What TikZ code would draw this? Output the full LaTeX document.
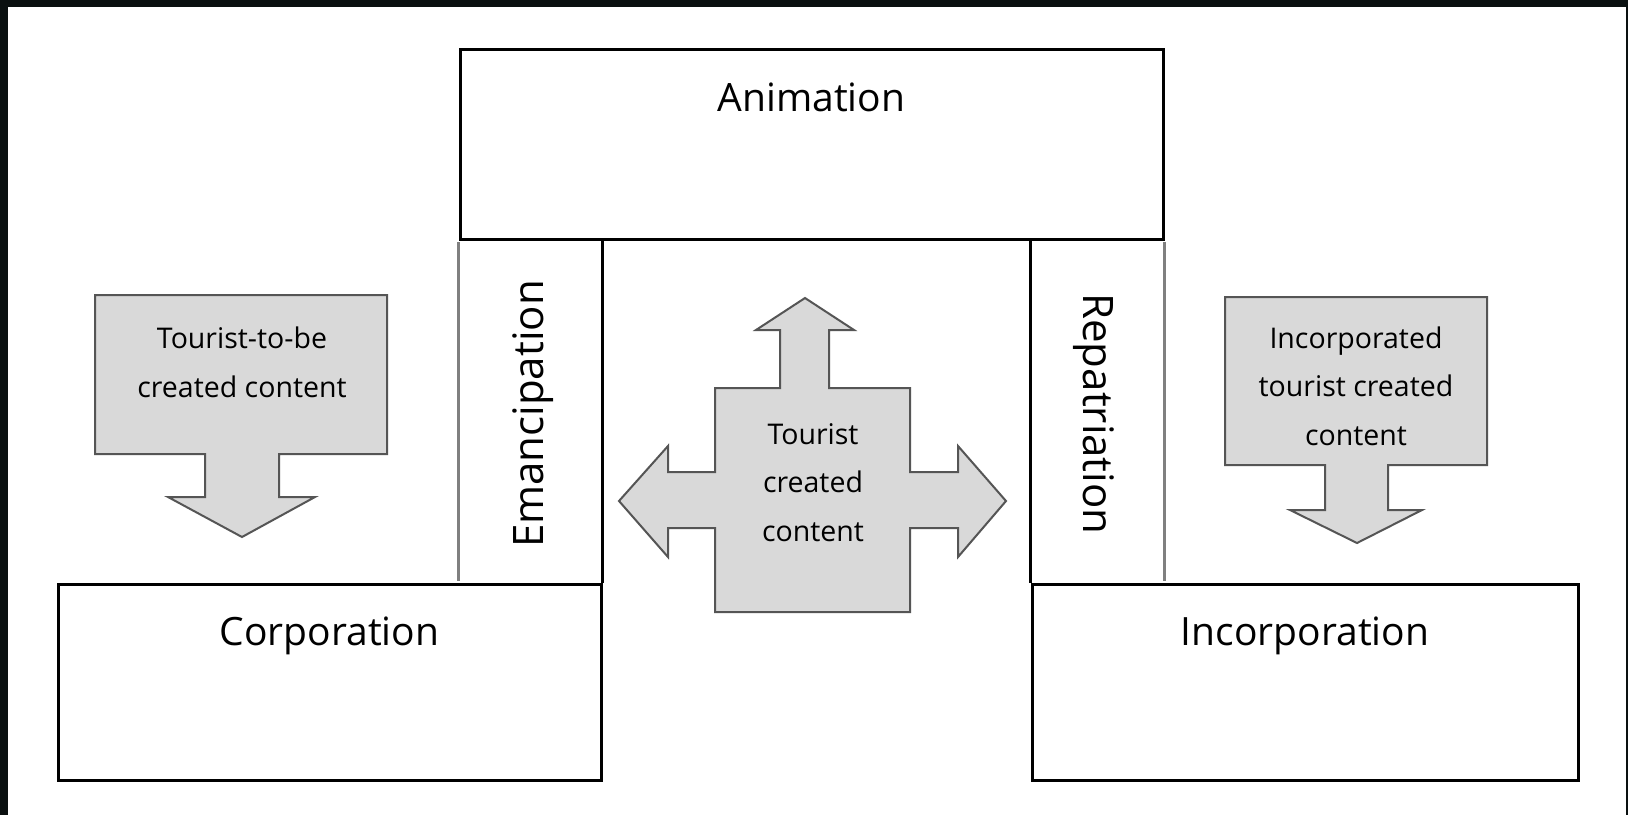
\documentclass[tikz,border=0pt]{standalone}
\usepackage{fontspec}
\setmainfont{Open Sans}
\usepackage{tikz}
\usetikzlibrary{calc,positioning}
\definecolor{shapegray}{HTML}{D9D9D9}
\definecolor{edgegray}{HTML}{555555}
\definecolor{night}{HTML}{0A1010}
\newcommand{\titlefont}{\fontsize{39}{47}\selectfont}
\newcommand{\sidefont}{\fontsize{42}{50}\selectfont}
\newcommand{\notefont}{\fontsize{28.5}{48.5}\selectfont}

\begin{document}
\begin{tikzpicture}[
    x=1pt, y=-1pt,
    nosep/.style={inner sep=0},
    frame/.style={draw=black, line width=3pt, fill=white, nosep},
    thinrule/.style={draw=gray, line width=2.2pt, shorten <=1.5pt, shorten >=1.5pt},
    blackrule/.style={draw=black, line width=3pt},
    flowshape/.style={fill=shapegray, draw=edgegray, line width=2pt, line join=miter},
    title/.style={nosep, anchor=base, font=\titlefont},
    side/.style={nosep, anchor=base, font=\sidefont},
    note/.style={nosep, anchor=base, align=center, font=\notefont}]
\useasboundingbox (0,0) rectangle (1628,815);
\fill[night] (0,0) rectangle (1628,815);
\fill[white] (8,7) rectangle (1626,815);

% the three stages
\node[frame, minimum width=703pt, minimum height=190pt] (animation) at (811.5,144) {};
\node[frame, minimum width=543pt, minimum height=196pt] (corporation) at (329.5,682) {};
\node[frame, minimum width=546pt, minimum height=196pt] (incorporation) at (1305,682) {};
\node[title] (animationtext) at ([yshift=-64pt]animation.north) {Animation};
\node[title] (corporationtext) at ([yshift=-63pt]corporation.north) {Corporation};
\node[title] (incorporationtext) at ([yshift=-63pt]incorporation.north) {Incorporation};

% columns between the stages
\path[thinrule] (animation.south west) -- (animation.south west |- corporation.north);
\path[blackrule] (corporation.north east |- animation.south) -- (corporation.north east);
\path[blackrule] (incorporation.north west |- animation.south) -- (incorporation.north west);
\path[thinrule] (animation.south east) -- (animation.south east |- incorporation.north);
\node[side, rotate=90] (emancipation) at (543,414) {Emancipation};
\node[side, rotate=-90] (repatriation) at (1083,414) {Repatriation};

% grey content arrows
\path[flowshape] (95,295) -- (387,295) -- (387,454) -- (279,454) -- (279,497) -- (315,497)
    -- (242,537) -- (168,497) -- (205,497) -- (205,454) -- (95,454) -- cycle;
\path[flowshape] (1225,297) -- (1487,297) -- (1487,465) -- (1388,465) -- (1388,510) -- (1422,510)
    -- (1357,543) -- (1290,510) -- (1325,510) -- (1325,465) -- (1225,465) -- cycle;
\path[flowshape] (715,388) -- (780,388) -- (780,330) -- (756,330) -- (805,298) -- (854,330)
    -- (829,330) -- (829,388) -- (910,388) -- (910,472) -- (958,472) -- (958,446) -- (1006,501)
    -- (958,557) -- (958,528) -- (910,528) -- (910,612) -- (715,612) -- (715,528) -- (668,528)
    -- (668,557) -- (619,501) -- (668,446) -- (668,472) -- (715,472) -- cycle;
\node[note] (tobe) at (242,397) {Tourist-to-be\\created content};
\node[note] (incorporated) at (1356,445) {Incorporated\\tourist created\\content};
\node[note] (touristcreated) at (813,541) {Tourist\\created\\content};

\end{tikzpicture}
\end{document}
